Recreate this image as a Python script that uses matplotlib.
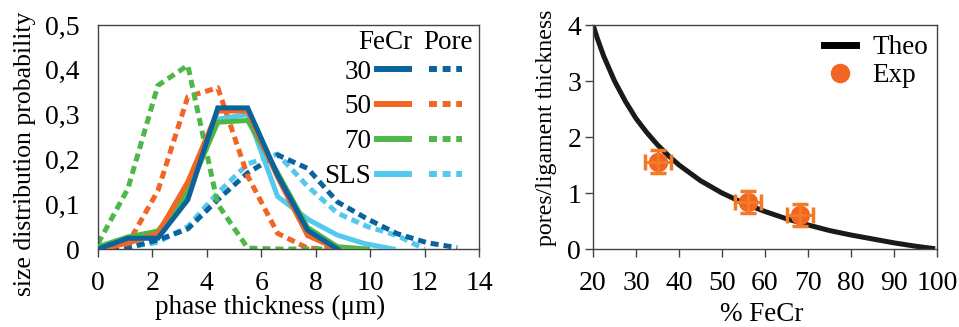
import matplotlib
matplotlib.use("Agg")
import matplotlib.pyplot as plt
from matplotlib.lines import Line2D
from matplotlib.ticker import FuncFormatter, FixedLocator

plt.rcParams['font.family'] = ['Liberation Serif', 'DejaVu Serif']

# ---------------- data: left panel (size distribution) ----------------
x_grid = [0, 1.1, 2.2, 3.3, 4.4, 5.5, 6.6, 7.7, 8.8]
x_grid70 = [0, 1.1, 2.2, 3.3, 4.4, 5.5, 6.6, 7.7, 8.8, 9.9]
x_sls = [0, 1.1, 2.2, 3.3, 4.4, 5.5, 6.6, 7.75, 8.8, 9.8, 10.85]

fecr30 = [0.0, 0.024, 0.024, 0.11, 0.315, 0.315, 0.165, 0.042, 0.0]
fecr50 = [0.0, 0.013, 0.035, 0.15, 0.308, 0.308, 0.16, 0.03, 0.0]
fecr70 = [0.005, 0.027, 0.04, 0.127, 0.283, 0.287, 0.17, 0.048, 0.005, 0.0]
fecr_sls = [0.0, 0.02, 0.03, 0.13, 0.29, 0.30, 0.117, 0.065, 0.031, 0.012, 0.0]

x_pore = [0, 1.1, 2.2, 3.3, 4.4, 5.5, 6.6, 7.7, 8.8, 9.9, 11.0, 12.1, 13.2]
x_pore50 = [0, 1.1, 2.2, 3.3, 4.4, 5.5, 6.6, 7.7, 8.8]
x_pore70 = [0, 1.1, 2.2, 3.3, 4.4, 5.5, 6.6, 7.7, 8.8]
x_pore_sls = [0, 1.1, 2.2, 3.3, 4.4, 5.5, 6.6, 7.7, 8.8, 9.9, 11.0, 12.0]

pore30 = [0.0, 0.003, 0.02, 0.045, 0.11, 0.17, 0.21, 0.18, 0.105, 0.067, 0.034, 0.014, 0.003]
pore50 = [0.0, 0.012, 0.13, 0.34, 0.36, 0.163, 0.035, 0.002, 0.0]
pore70 = [0.012, 0.135, 0.365, 0.41, 0.10, 0.002, 0.0, 0.0, 0.0]
pore_sls = [0.0, 0.004, 0.015, 0.05, 0.125, 0.19, 0.212, 0.14, 0.08, 0.05, 0.03, 0.0]

series_labels = ['30', '50', '70', 'SLS']
colors = ['#0B639E', '#F26522', '#4DB848', '#55C8EE']

# ---------------- data: right panel ----------------
theo_x = [20, 21, 22.5, 25, 27.5, 30, 32.5, 35, 37.5, 40, 45, 50, 55, 60, 65, 70, 75, 80, 85, 90, 95, 99]
theo_y = [4.0, 3.76, 3.44, 3.0, 2.64, 2.33, 2.08, 1.86, 1.67, 1.5, 1.22, 1.0, 0.82, 0.67, 0.54,
          0.43, 0.33, 0.25, 0.18, 0.11, 0.05, 0.01]
exp_x = [35.2, 56.0, 68.1]
exp_y = [1.56, 0.84, 0.61]
exp_xerr = [3.0, 3.0, 3.0]
exp_yerr = [0.2, 0.2, 0.2]

# ---------------- figure ----------------
fig = plt.figure(figsize=(9.59, 3.27), dpi=100)
ax1 = fig.add_axes([0.1022, 0.2385, 0.3973, 0.685])
ax2 = fig.add_axes([0.6184, 0.2385, 0.3586, 0.685])

FS_TICK = 20
FS_LAB = 19.5
FS_LEG = 19.5
spine_col = '#444444'
LW = 3.6
DASH = (0, (1.6, 1.0))

pore_x = [x_pore, x_pore50, x_pore70, x_pore_sls]
pore_y = [pore30, pore50, pore70, pore_sls]
fecr_x = [x_grid, x_grid, x_grid70, x_sls]
fecr_y = [fecr30, fecr50, fecr70, fecr_sls]

for i in [3, 0, 1, 2]:
    ax1.plot(pore_x[i], pore_y[i], color=colors[i], lw=LW, ls=DASH, zorder=2)
for i in [3, 2, 1, 0]:
    ax1.plot(fecr_x[i], fecr_y[i], color=colors[i], lw=LW, ls='-', zorder=3,
             solid_joinstyle='miter')

ax1.set_xlim(0, 14)
ax1.set_ylim(0, 0.5)
ax1.xaxis.set_major_locator(FixedLocator([0, 2, 4, 6, 8, 10, 12, 14]))
ax1.yaxis.set_major_locator(FixedLocator([0, 0.1, 0.2, 0.3, 0.4, 0.5]))
ax1.yaxis.set_major_formatter(FuncFormatter(
    lambda v, p: '0' if abs(v) < 1e-9 else ('%.1f' % v).replace('.', ',')))
ax1.tick_params(axis='x', direction='out', length=5.5, width=1, color=spine_col,
                labelsize=FS_TICK, pad=10)
ax1.tick_params(axis='y', length=0, labelsize=FS_TICK, pad=13)
ax1.set_xlabel('phase thickness (μm)', fontsize=FS_LAB, va='top')
ax1.xaxis.set_label_coords(0.451, -0.205)
ax1.set_ylabel('size distribution probability', fontsize=FS_LAB - 1)
ax1.yaxis.set_label_coords(-0.163, 0.424)
for s in ax1.spines.values():
    s.set_color(spine_col)
    s.set_linewidth(1.0)

# legend for left panel
h_solid = [Line2D([], [], color=c, lw=4.3, ls='-') for c in colors]
h_dash = [Line2D([], [], color=c, lw=4.3, ls=(0, (1.33, 0.95))) for c in colors]
leg = ax1.legend(h_solid + h_dash, series_labels + [''] * 4, ncol=2, markerfirst=False,
                 frameon=False, fontsize=FS_LEG, handlelength=1.2, handletextpad=0.2,
                 columnspacing=0.55, labelspacing=0.36, loc='upper right',
                 bbox_to_anchor=(0.955, 0.845), borderaxespad=0, borderpad=0)
ax1.text(0.755, 0.92, 'FeCr', transform=ax1.transAxes, fontsize=FS_LEG,
         ha='center', va='center')
ax1.text(0.918, 0.92, 'Pore', transform=ax1.transAxes, fontsize=FS_LEG,
         ha='center', va='center')

# ---------------- right panel ----------------
ax2.plot(theo_x, theo_y, color='#1a1a1a', lw=3.6, label='Theo', zorder=2)
ax2.plot(exp_x, exp_y, ls='none', marker='o', ms=13, color='#F26522', mec='#F26522',
         label='Exp', zorder=3)
ax2.errorbar(exp_x, exp_y, xerr=exp_xerr, yerr=exp_yerr, fmt='none', ecolor='#F47A25',
             elinewidth=2.2, capsize=6, capthick=2.5, zorder=4)
ax2.set_xlim(20, 100)
ax2.set_ylim(0, 4)
ax2.xaxis.set_major_locator(FixedLocator([20, 30, 40, 50, 60, 70, 80, 90, 100]))
ax2.yaxis.set_major_locator(FixedLocator([0, 1, 2, 3, 4]))
ax2.tick_params(axis='both', direction='out', length=5.5, width=1, color=spine_col,
                labelsize=FS_TICK)
ax2.tick_params(axis='x', pad=10)
ax2.tick_params(axis='y', pad=3)
ax2.set_xlabel('% FeCr', fontsize=FS_LAB, va='top')
ax2.xaxis.set_label_coords(0.491, -0.238)
ax2.set_ylabel('pores/ligament thickness', fontsize=17.2)
ax2.yaxis.set_label_coords(-0.105, 0.54)
for s in ax2.spines.values():
    s.set_color(spine_col)
    s.set_linewidth(1.0)
h_theo = Line2D([], [], color='black', lw=5)
h_exp = Line2D([], [], ls='none', marker='o', ms=13, color='#F26522')
ax2.legend([h_theo, h_exp], ['Theo', 'Exp'], frameon=False, fontsize=FS_LEG,
           handlelength=1.2, handletextpad=0.6, labelspacing=0.12,
           loc='upper right', bbox_to_anchor=(0.975, 0.955), borderaxespad=0, borderpad=0)

fig.savefig('out.png', dpi=100)
